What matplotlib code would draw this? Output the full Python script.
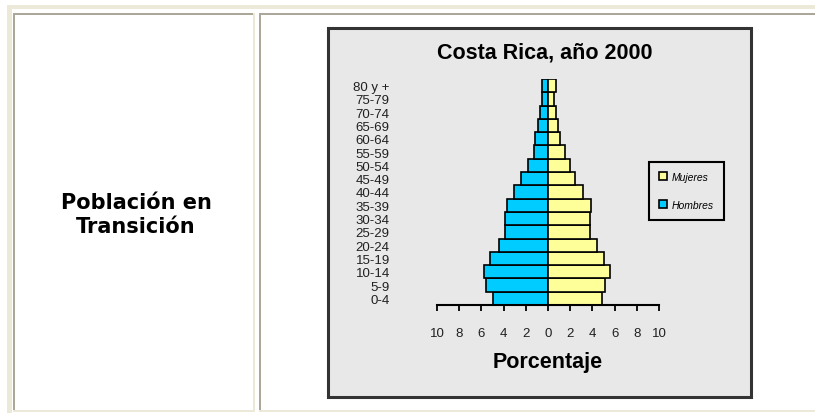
import matplotlib
matplotlib.use('Agg')
import matplotlib.pyplot as plt
from matplotlib.patches import Rectangle, Patch

# porcentaje de poblacion por grupo de edad, Costa Rica 2000
grupos = ['0-4', '5-9', '10-14', '15-19', '20-24', '25-29', '30-34', '35-39',
          '40-44', '45-49', '50-54', '55-59', '60-64', '65-69', '70-74',
          '75-79', '80 y +']
hombres = [5.0, 5.6, 5.75, 5.2, 4.45, 3.85, 3.85, 3.7, 3.1, 2.4, 1.8, 1.3,
           1.15, 0.9, 0.75, 0.5, 0.55]
mujeres = [4.85, 5.15, 5.55, 5.0, 4.4, 3.8, 3.8, 3.9, 3.15, 2.45, 2.0, 1.5,
           1.1, 0.9, 0.7, 0.5, 0.7]
ticks = [-10, -8, -6, -4, -2, 0, 2, 4, 6, 8, 10]

W, H = 815, 414
fig = plt.figure(figsize=(W / 100, H / 100), dpi=100)
fig.patch.set_facecolor('white')

beige = '#ECE9D8'
gris = '#ACA899'


def caja(x0, y0, x1, y1, color):
    fig.patches.append(Rectangle((x0 / W, 1 - y1 / H), (x1 - x0) / W, (y1 - y0) / H,
                                 transform=fig.transFigure, facecolor=color,
                                 edgecolor='none', zorder=0))


# bordes de la tabla
caja(7, 6, 815, 10, beige)
caja(7, 6, 12, 414, beige)
caja(13, 14, 255, 16, gris)
caja(13, 14, 15, 411, gris)
caja(253, 14, 255, 413, beige)
caja(13, 411, 255, 413, beige)
caja(259, 14, 815, 16, gris)
caja(259, 14, 261, 411, gris)
caja(259, 411, 815, 413, beige)

# texto de la primera celda
fig.text(136 / W, 1 - 203 / H, 'Población en', ha='center', va='center',
         fontsize=15, fontweight='bold', family='DejaVu Sans', color='black')
fig.text(136 / W, 1 - 227 / H, 'Transición', ha='center', va='center',
         fontsize=15, fontweight='bold', family='DejaVu Sans', color='black')

# marco gris del grafico
fig.patches.append(Rectangle((328 / W, 1 - 398 / H), 423 / W, 369 / H,
                             transform=fig.transFigure, facecolor='#E8E8E8',
                             edgecolor='#333333', linewidth=2.2, zorder=1))

ax = fig.add_axes([437 / W, 1 - 306 / H, 222 / W, 226 / H])
ax.set_facecolor('none')
ax.set_zorder(2)

y = list(range(len(grupos)))
ax.barh(y, [-v for v in hombres], height=1.0, color='#00CCFF',
        edgecolor='black', linewidth=1.2, label='Hombres')
ax.barh(y, mujeres, height=1.0, color='#FFFF99',
        edgecolor='black', linewidth=1.2, label='Mujeres')

ax.set_xlim(-10, 10)
ax.set_ylim(-0.5, len(grupos) - 0.5)
for s in ['top', 'right', 'left']:
    ax.spines[s].set_visible(False)
ax.spines['bottom'].set_linewidth(1.5)

ax.set_xticks(ticks)
ax.set_xticklabels([str(abs(t)) for t in ticks], fontsize=9.5,
                   family='Liberation Sans', color='#202020')
ax.tick_params(axis='x', direction='out', length=4, width=1.3, pad=12)

ax.set_yticks(y)
ax.set_yticklabels(grupos, fontsize=9.5, family='Liberation Sans', color='#202020')
ax.tick_params(axis='y', length=0, pad=34)

fig.text(545 / W, 1 - 53 / H, 'Costa Rica, año 2000', ha='center', va='center',
         fontsize=15.5, fontweight='bold', family='Liberation Sans')
fig.text(548 / W, 1 - 363 / H, 'Porcentaje', ha='center', va='center',
         fontsize=15.5, fontweight='bold', family='Liberation Sans')

handles = [Patch(facecolor='#FFFF99', edgecolor='black', linewidth=1.2),
           Patch(facecolor='#00CCFF', edgecolor='black', linewidth=1.2)]
leg = ax.legend(handles, ['Mujeres', 'Hombres'], loc='upper left',
                bbox_to_anchor=(649 / W, 1 - 163 / H), bbox_transform=fig.transFigure,
                fancybox=False, framealpha=1, facecolor='#E8E8E8', edgecolor='black',
                prop={'family': 'Liberation Sans', 'size': 7.5, 'style': 'italic'},
                handlelength=0.8, handleheight=0.8, handletextpad=0.45,
                labelspacing=1.7, borderpad=0.95, borderaxespad=0)
leg.get_frame().set_linewidth(1.5)

fig.savefig('out.png', dpi=100)
